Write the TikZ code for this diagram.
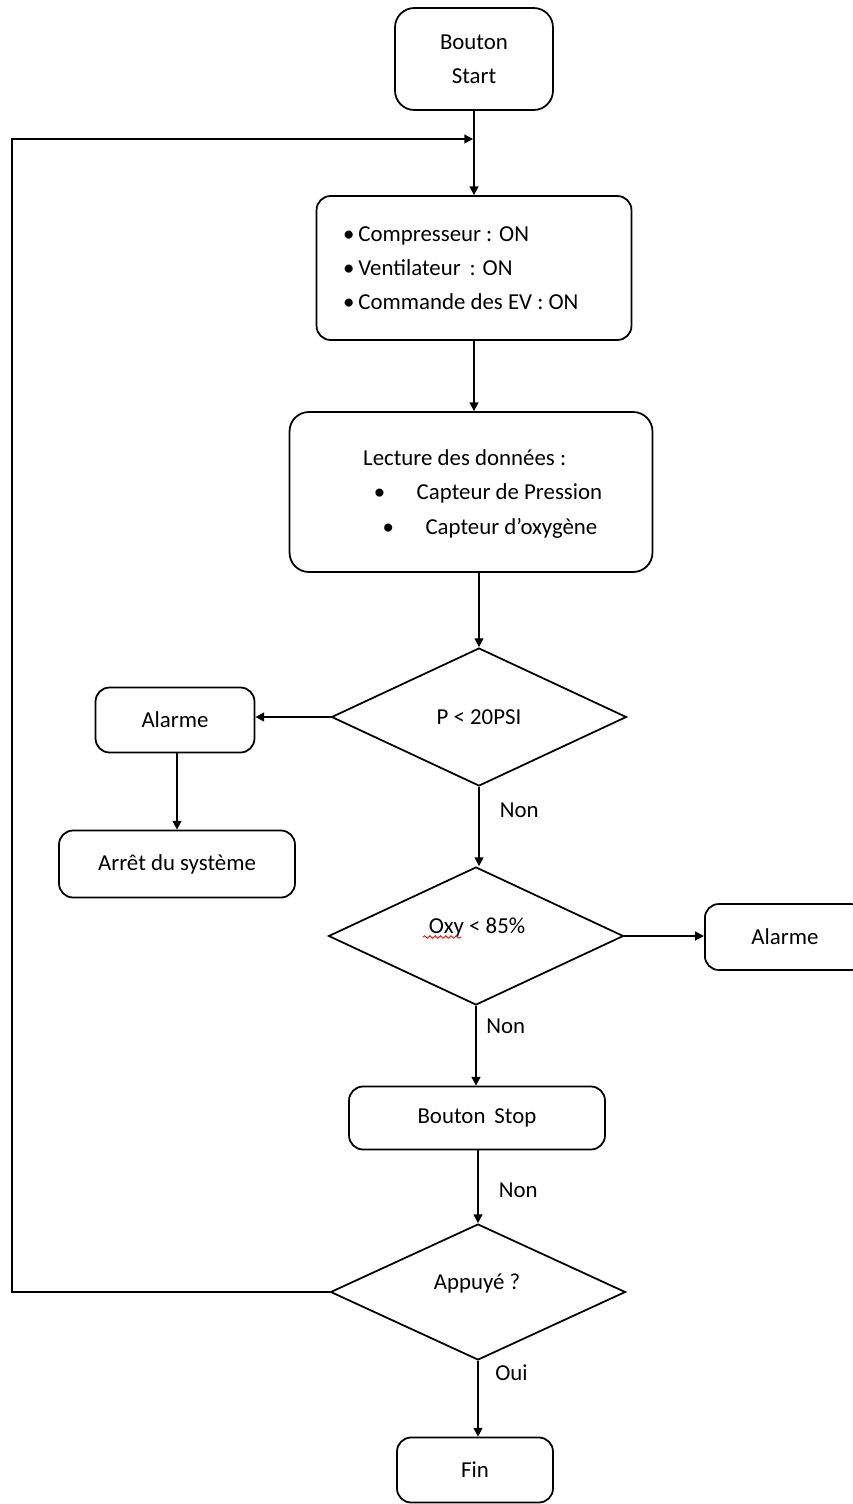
\documentclass[tikz,border=0pt]{standalone}
\usepackage{fontspec}
\setmainfont{Carlito}
\usetikzlibrary{shapes.geometric,arrows.meta,decorations.pathmorphing}
\tikzset{
  bloc/.style={draw, line width=1pt, rounded corners=8pt, align=center},
  decision/.style={draw, diamond, line width=1pt, inner sep=0pt, minimum width=5.9cm, minimum height=2.76cm},
  fleche/.style={line width=1pt, -{Triangle[length=5pt,width=5pt]}},
  lien/.style={line width=1pt},
}
\begin{document}
\begin{tikzpicture}[x=0.02cm, y=-0.02cm, font=\fontsize{13}{19.5}\selectfont]
      \useasboundingbox (0,0) rectangle (852,1504);
      \node[bloc, rounded corners=11pt, minimum width=3.16cm, minimum height=2.04cm] (start) at (474,59) {Bouton\\Start};
      \node[bloc, minimum width=6.3cm, minimum height=2.88cm] (marche) at (474,268) {};
      \node[align=left, anchor=west] (marchetxt) at (337,268) {\textbullet\,Compresseur : ON\\\textbullet\,Ventilateur \,: ON\\\textbullet\,Commande des EV : ON};
      \node[bloc, rounded corners=11pt, minimum width=7.26cm, minimum height=3.2cm] (lecture) at (471,492) {};
      \node[align=left, anchor=west] (lecturetxt) at (357,494) {Lecture des donn\'ees :\\\hspace*{6pt}\textbullet\hspace{18pt}Capteur de Pression\\\hspace*{11pt}\textbullet\hspace{18pt}Capteur d'oxyg\`ene};
      \node[decision] (pression) at (479,717) {P < 20PSI};
      \node[bloc, minimum width=3.18cm, minimum height=1.3cm] (alarmeA) at (175,720) {Alarme};
      \node[bloc, minimum width=4.72cm, minimum height=1.34cm] (arret) at (177,864) {Arr\^et du syst\`eme};
      \node[decision] (oxy) at (476,936) {};
      \node (oxytxt) at (477,928) {Oxy < 85\%};
      \node[bloc, anchor=west, minimum width=3.2cm, minimum height=1.32cm, text width=2.6cm] (alarmeB) at (704,937) {Alarme};
      \node[bloc, minimum width=5.12cm, minimum height=1.26cm] (stop) at (477,1118) {Bouton \,Stop};
      \node[decision, minimum height=2.72cm] (appui) at (478,1292) {};
      \node (appuitxt) at (477,1284) {Appuy\'e ?};
      \node[bloc, minimum width=3.12cm, minimum height=1.3cm] (fin) at (475,1470) {Fin};
      \coordinate (coin1) at (12,1292);
      \coordinate (coin2) at (12,139);
      \coordinate (retour) at (474,139);
      \draw[red, line width=0.5pt, decorate, decoration={snake, amplitude=0.7pt, segment length=3pt}] (423,937) -- (461,937);
      \draw[fleche] (start.south) -- (start.south |- marche.north);
      \draw[fleche] (marche.south) -- (marche.south |- lecture.north);
      \draw[fleche] (lecture.south -| pression.north) -- (pression);
      \draw[fleche] (pression.west) -- (alarmeA.east |- pression.west);
      \draw[fleche] (alarmeA.south -| arret.north) -- (arret);
      \draw[fleche] (pression.south) -- node[right, pos=0.3, xshift=8pt] {Non} (pression.south |- oxy.north);
      \draw[fleche] (oxy.east) -- (alarmeB.west |- oxy.east);
      \draw[fleche] (oxy.south) -- node[right, pos=0.25, xshift=2pt] {Non} (stop.north -| oxy.south);
      \draw[fleche] (stop.south -| appui.north) -- node[right, pos=0.55, xshift=8pt] {Non} (appui.north);
      \draw[fleche] (appui.south) -- node[right, pos=0.15, xshift=6pt] {Oui} (fin.north -| appui.south);
      \draw[lien] (appui.west) -- (coin1) -- (coin2) -- ([xshift=-6pt]retour);
      \draw[fleche] (coin2) -- ([xshift=-0.5pt]retour);
\end{tikzpicture}
\end{document}
